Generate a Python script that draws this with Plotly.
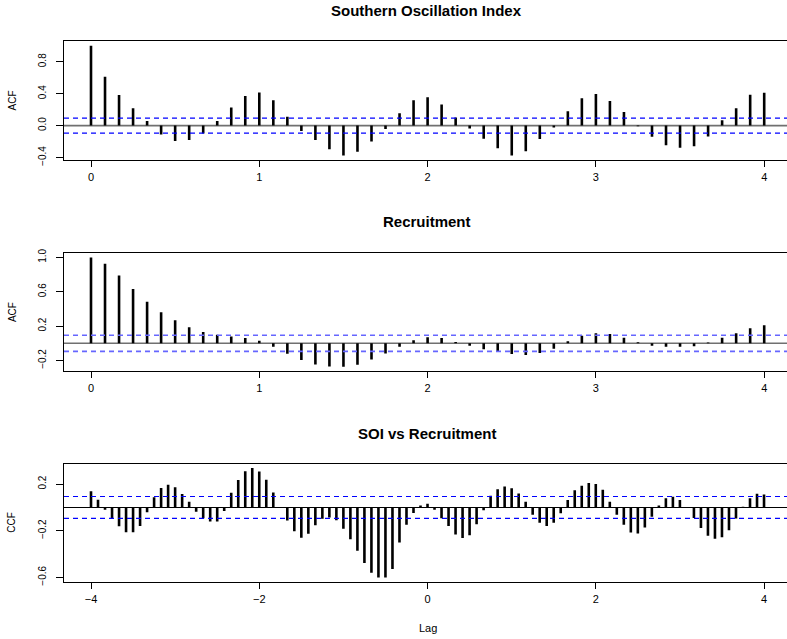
import plotly.graph_objects as go

# ---------------- data ----------------
soi_lags = [k / 12 for k in range(49)]
soi_acf = [1.0, 0.613, 0.383, 0.218, 0.058, -0.111, -0.193, -0.181, -0.099, 0.058,
           0.226, 0.370, 0.416, 0.317, 0.111, -0.066, -0.181, -0.296, -0.374, -0.329,
           -0.198, -0.041, 0.156, 0.317, 0.354, 0.263, 0.103, -0.037, -0.165, -0.284,
           -0.374, -0.321, -0.169, -0.025, 0.181, 0.342, 0.395, 0.309, 0.169, -0.008,
           -0.140, -0.247, -0.276, -0.259, -0.136, 0.066, 0.218, 0.387, 0.412]

rec_lags = [k / 12 for k in range(49)]
rec_acf = [1.0, 0.926, 0.789, 0.632, 0.484, 0.362, 0.267, 0.187, 0.130, 0.099,
           0.080, 0.061, 0.030, -0.042, -0.122, -0.194, -0.248, -0.270, -0.274, -0.251,
           -0.190, -0.118, -0.042, 0.034, 0.069, 0.061, 0.015, -0.030, -0.069, -0.099,
           -0.126, -0.137, -0.114, -0.065, 0.023, 0.088, 0.118, 0.107, 0.065, 0.011,
           -0.030, -0.042, -0.042, -0.034, 0.008, 0.065, 0.118, 0.175, 0.210]

ccf_lags = [k / 12 for k in range(-48, 49)]
ccf_vals = [0.140, 0.067, -0.020, -0.095, -0.162, -0.213, -0.213, -0.159, -0.042, 0.087,
            0.168, 0.196, 0.173, 0.115, 0.048, -0.036, -0.092, -0.120, -0.120, -0.031,
            0.126, 0.235, 0.310, 0.338, 0.308, 0.238, 0.129, -0.005, -0.112, -0.204,
            -0.260, -0.227, -0.154, -0.098, -0.087, -0.109, -0.182, -0.274, -0.372, -0.478,
            -0.562, -0.601, -0.601, -0.529, -0.302, -0.148, -0.048, 0.017, 0.031, -0.020,
            -0.092, -0.159, -0.232, -0.263, -0.238, -0.145, -0.025, 0.101, 0.157, 0.179,
            0.165, 0.120, 0.048, -0.062, -0.131, -0.159, -0.131, -0.050, 0.064, 0.148,
            0.187, 0.210, 0.201, 0.151, 0.050, -0.062, -0.148, -0.215, -0.224, -0.173,
            -0.081, 0.017, 0.078, 0.092, 0.064, -0.003, -0.090, -0.176, -0.243, -0.269,
            -0.257, -0.196, -0.095, 0.005, 0.078, 0.117, 0.112]

conf_limit = 0.094

titles = ["Southern Oscillation Index", "Recruitment", "SOI vs Recruitment"]
y_titles = ["ACF", "ACF", "CCF"]
acf_x_ticks = [0, 1, 2, 3, 4]
ccf_x_ticks = [-4, -2, 0, 2, 4]
soi_y_ticks = [-0.4, 0.0, 0.4, 0.8]
soi_y_text = ["\u22120.4", "0.0", "0.4", "0.8"]
rec_y_ticks = [-0.2, 0.2, 0.6, 1.0]
rec_y_text = ["\u22120.2", "0.2", "0.6", "1.0"]
ccf_y_ticks = [-0.6, -0.2, 0.2]
ccf_y_text = ["\u22120.6", "\u22120.2", "0.2"]
ccf_x_text = ["\u22124", "\u22122", "0", "2", "4"]

# ---------------- layout helpers ----------------
W, H = 787, 639
FONT = "Liberation Sans, Arial, Helvetica, sans-serif"


def px_x(p):
    return p / W


def px_y(p):
    return 1 - p / H


def stems(lags, vals):
    xs, ys = [], []
    for l, v in zip(lags, vals):
        xs += [l, l, None]
        ys += [0, v, None]
    return xs, ys


fig = go.Figure()

panels = [
    dict(lags=soi_lags, vals=soi_acf, top=38, bot=158, xr=[-0.1604, 4.1355], yr=[-0.425, 1.055],
         xt=acf_x_ticks, xtt=[str(v) for v in acf_x_ticks], yt=soi_y_ticks, ytt=soi_y_text,
         zero="#707070", zw=1.6, ci="#0000ff", ciw=1.1),
    dict(lags=rec_lags, vals=rec_acf, top=253, bot=373, xr=[-0.1604, 4.1355], yr=[-0.325, 1.051],
         xt=acf_x_ticks, xtt=[str(v) for v in acf_x_ticks], yt=rec_y_ticks, ytt=rec_y_text,
         zero="#707070", zw=1.6, ci="#6666ff", ciw=1.6),
    dict(lags=ccf_lags, vals=ccf_vals, top=467, bot=587, xr=[-4.321, 4.273], yr=[-0.639, 0.376],
         xt=ccf_x_ticks, xtt=ccf_x_text, yt=ccf_y_ticks, ytt=ccf_y_text,
         zero="#000000", zw=1.1, ci="#0000ff", ciw=1.1),
]

title_y = [7, 221, 436]
layout = dict(
    width=W, height=H,
    margin=dict(l=0, r=0, t=0, b=0),
    paper_bgcolor="white", plot_bgcolor="white",
    showlegend=False,
    font=dict(family=FONT, color="black", size=10),
)
shapes = []
annotations = []

for i, p in enumerate(panels):
    n = "" if i == 0 else str(i + 1)
    xs, ys = stems(p["lags"], p["vals"])
    fig.add_trace(go.Scatter(x=xs, y=ys, mode="lines", xaxis="x" + n, yaxis="y" + n,
                             line=dict(color="black", width=2.6), hoverinfo="skip"))
    layout["xaxis" + n] = dict(
        domain=[px_x(64), 1], range=p["xr"], anchor="y" + n,
        showgrid=False, zeroline=False, showline=True, mirror=True,
        linecolor="black", linewidth=1,
        ticks="outside", ticklen=6, tickcolor="black", tickwidth=1,
        tickvals=p["xt"], ticktext=p["xtt"], tickfont=dict(size=11, family=FONT, color="black"),
        ticklabelstandoff=1,
    )
    layout["yaxis" + n] = dict(
        domain=[px_y(p["bot"]), px_y(p["top"])], range=p["yr"], anchor="x" + n,
        showgrid=False, zeroline=False, showline=True, mirror=False,
        linecolor="black", linewidth=1,
        ticks="outside", ticklen=7, tickcolor="black", tickwidth=1,
        tickvals=p["yt"], ticktext=p["ytt"], tickangle=-90,
        tickfont=dict(size=10, family=FONT, color="black"),
        ticklabelstandoff=6,
    )
    xref = "x" + n
    yref = "y" + n
    shapes.append(dict(type="line", xref=xref + " domain", yref=yref, x0=0, x1=1, y0=0, y1=0,
                       line=dict(color=p["zero"], width=p["zw"]), layer="below"))
    for c in (conf_limit, -conf_limit):
        shapes.append(dict(type="line", xref=xref + " domain", yref=yref, x0=0, x1=1, y0=c, y1=c,
                           line=dict(color=p["ci"], width=p["ciw"], dash="5px,4px")))
    annotations.append(dict(text="<b>" + titles[i] + "</b>", xref="paper", yref="paper",
                            x=px_x(427), y=px_y(title_y[i]), xanchor="center", yanchor="middle",
                            showarrow=False, font=dict(size=15, family=FONT, color="black")))
    annotations.append(dict(text=y_titles[i], xref="paper", yref="paper",
                            x=px_x(12), y=px_y((p["top"] + p["bot"]) / 2), textangle=-90,
                            xanchor="center", yanchor="middle", showarrow=False,
                            font=dict(size=10, family=FONT, color="black")))

annotations.append(dict(text="Lag", xref="paper", yref="paper", x=px_x(428), y=px_y(634),
                        xanchor="center", yanchor="middle", showarrow=False,
                        font=dict(size=11, family=FONT, color="black")))
layout["shapes"] = shapes
layout["annotations"] = annotations
fig.update_layout(**layout)
fig.write_html("out.html", config={"displayModeBar": False},
               post_script="document.body.style.margin='0';document.body.style.overflow='hidden';")
